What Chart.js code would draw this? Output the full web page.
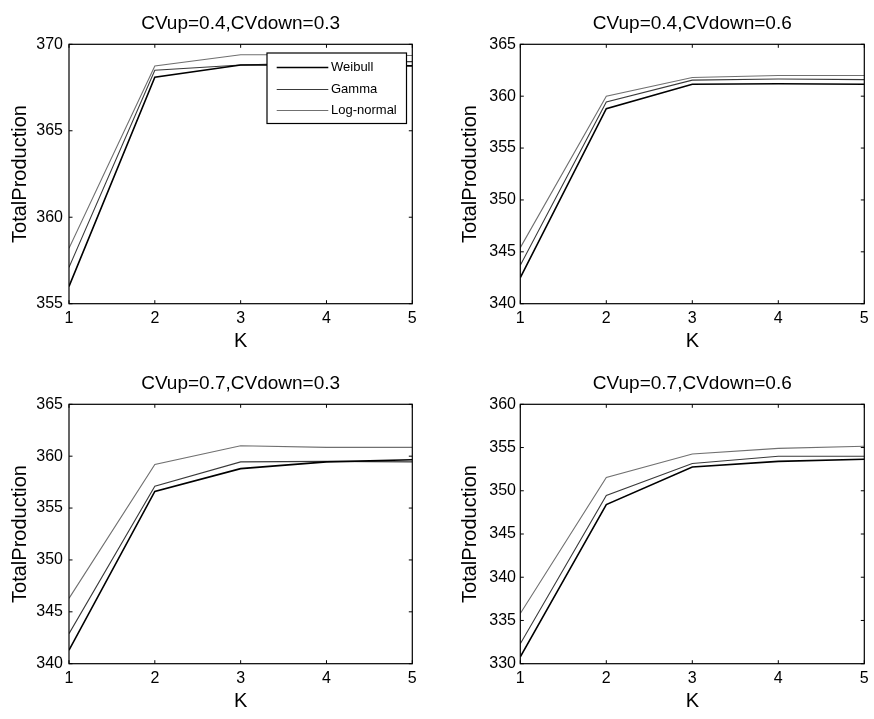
<!DOCTYPE html>
<html><head><meta charset="utf-8">
<script src="https://cdn.jsdelivr.net/npm/chart.js@4.4.0/dist/chart.umd.min.js"></script>
<style>
html,body{margin:0;padding:0;background:#fff;}
#wrap{position:relative;width:874px;height:719px;overflow:hidden;background:#fff;}
canvas{position:absolute;}
</style></head><body>
<div id="wrap">
<canvas id="c0" width="437" height="360" style="left:0px;top:0px"></canvas>
<canvas id="c1" width="437" height="360" style="left:437px;top:0px"></canvas>
<canvas id="c2" width="437" height="359" style="left:0px;top:360px"></canvas>
<canvas id="c3" width="437" height="359" style="left:437px;top:360px"></canvas>
</div>
<script>
// ---- data ----
const kValues = [1, 2, 3, 4, 5];
const seriesNames = ['Weibull', 'Gamma', 'Log-normal'];
const panelTitles = ['CVup=0.4,CVdown=0.3', 'CVup=0.4,CVdown=0.6', 'CVup=0.7,CVdown=0.3', 'CVup=0.7,CVdown=0.6'];
const xLabel = 'K';
const yLabel = 'TotalProduction';

// CVup=0.4, CVdown=0.3
const weibullA = [356.0, 368.1, 368.8, 368.8, 368.75];
const gammaA   = [357.1, 368.5, 368.8, 368.95, 369.0];
const lognormA = [358.2, 368.75, 369.4, 369.4, 369.35];
// CVup=0.4, CVdown=0.6
const weibullB = [342.5, 358.8, 361.15, 361.2, 361.15];
const gammaB   = [343.7, 359.45, 361.55, 361.65, 361.6];
const lognormB = [345.4, 360.0, 361.8, 362.0, 362.0];
// CVup=0.7, CVdown=0.3
const weibullC = [341.3, 356.6, 358.8, 359.45, 359.65];
const gammaC   = [342.9, 357.1, 359.45, 359.5, 359.45];
const lognormC = [346.3, 359.2, 361.0, 360.85, 360.85];
// CVup=0.7, CVdown=0.6
const weibullD = [330.8, 348.4, 352.75, 353.4, 353.65];
const gammaD   = [332.3, 349.45, 353.15, 354.0, 354.0];
const lognormD = [335.8, 351.55, 354.25, 354.9, 355.15];

const yMins = [355, 340, 340, 330];
const yMaxs = [370, 365, 365, 360];
const yStep = 5;

// ---- styling ----
const FONT = '"Liberation Sans", Arial, sans-serif';
const lineColors = ['#000000', '#3a3a3a', '#707070'];
const lineWidths = [1.6, 1.1, 1.1];

const panelData = [
  [weibullA, gammaA, lognormA],
  [weibullB, gammaB, lognormB],
  [weibullC, gammaC, lognormC],
  [weibullD, gammaD, lognormD]
];

const framePlugin = {
  id: 'frame',
  afterDatasetsDraw(chart, args, opts) {
    const {ctx, chartArea: a, scales} = chart;
    ctx.save();
    ctx.strokeStyle = '#000';
    ctx.lineWidth = 1.2;
    ctx.strokeRect(a.left, a.top, a.right - a.left, a.bottom - a.top);
    ctx.lineWidth = 1;
    const tl = 3.5;
    ctx.beginPath();
    scales.x.ticks.forEach(t => {
      const px = scales.x.getPixelForValue(t.value);
      ctx.moveTo(px, a.bottom); ctx.lineTo(px, a.bottom - tl);
      ctx.moveTo(px, a.top); ctx.lineTo(px, a.top + tl);
    });
    scales.y.ticks.forEach(t => {
      const py = scales.y.getPixelForValue(t.value);
      ctx.moveTo(a.left, py); ctx.lineTo(a.left + tl, py);
      ctx.moveTo(a.right, py); ctx.lineTo(a.right - tl, py);
    });
    ctx.stroke();

    if (opts && opts.legend) {
      const w = 139.5, h = 70.5;
      const x0 = a.right - 5.8 - w;
      const y0 = a.top + 8.7;
      ctx.fillStyle = '#fff';
      ctx.fillRect(x0, y0, w, h);
      ctx.strokeStyle = '#000';
      ctx.lineWidth = 1.2;
      ctx.strokeRect(x0, y0, w, h);
      const rows = [14.5, 36.5, 57.5];
      ctx.font = '13px ' + FONT;
      ctx.textBaseline = 'middle';
      ctx.textAlign = 'left';
      chart.data.datasets.forEach((ds, i) => {
        const yy = y0 + rows[i];
        ctx.strokeStyle = ds.borderColor;
        ctx.lineWidth = ds.borderWidth;
        ctx.beginPath();
        ctx.moveTo(x0 + 9.7, yy); ctx.lineTo(x0 + 61.3, yy);
        ctx.stroke();
        ctx.fillStyle = '#000';
        ctx.fillText(ds.label, x0 + 64, yy);
      });
    }
    ctx.restore();
  }
};

function makeChart(idx) {
  const leftCol = (idx % 2 === 0);
  const topRow = idx < 2;
  const yW = leftCol ? 69 : 83.3;
  const padR = leftCol ? 24.7 : 9.7;
  const xH = topRow ? 56.3 : 55.3;
  const yTitlePad = leftCol ? 8 : 21.5;
  const xTitlePad = topRow ? 6.3 : 5.3;
  const yTickPad = leftCol ? 6 : 4.3;

  const datasets = panelData[idx].map((vals, i) => ({
    label: seriesNames[i],
    data: kValues.map((k, j) => ({x: k, y: vals[j]})),
    borderColor: lineColors[i],
    borderWidth: lineWidths[i],
    pointRadius: 0,
    tension: 0,
    fill: false
  }));
  // draw order: light first, black on top
  const ordered = datasets.map((d, i) => Object.assign(d, {order: i}));

  new Chart(document.getElementById('c' + idx), {
    type: 'line',
    data: {datasets: ordered},
    plugins: [framePlugin],
    options: {
      responsive: false,
      animation: false,
      devicePixelRatio: 1,
      layout: {padding: {left: 0, right: padR, top: 0, bottom: 0}},
      plugins: {
        legend: {display: false},
        tooltip: {enabled: false},
        title: {
          display: true, text: panelTitles[idx], fullSize: false,
          color: '#000', font: {family: FONT, size: 19, weight: 'normal'},
          padding: {top: 12.6, bottom: 8.9}
        },
        frame: {legend: idx === 0}
      },
      scales: {
        x: {
          type: 'linear', min: 1, max: 5,
          ticks: {stepSize: 1, color: '#000', font: {family: FONT, size: 16}, padding: 5, maxRotation: 0, autoSkip: false},
          grid: {display: false, drawTicks: false},
          border: {display: false},
          title: {display: true, text: xLabel, color: '#000', font: {family: FONT, size: 20}, padding: {top: 0, bottom: xTitlePad}},
          afterFit(s) { s.height = xH; }
        },
        y: {
          type: 'linear', min: yMins[idx], max: yMaxs[idx],
          ticks: {stepSize: yStep, color: '#000', font: {family: FONT, size: 16}, padding: yTickPad},
          grid: {display: false, drawTicks: false},
          border: {display: false},
          title: {display: true, text: yLabel, color: '#000', font: {family: FONT, size: 20}, padding: {top: yTitlePad, bottom: 0}},
          afterFit(s) { s.width = yW; }
        }
      }
    }
  });
}
[0, 1, 2, 3].forEach(makeChart);
</script>
</body></html>
